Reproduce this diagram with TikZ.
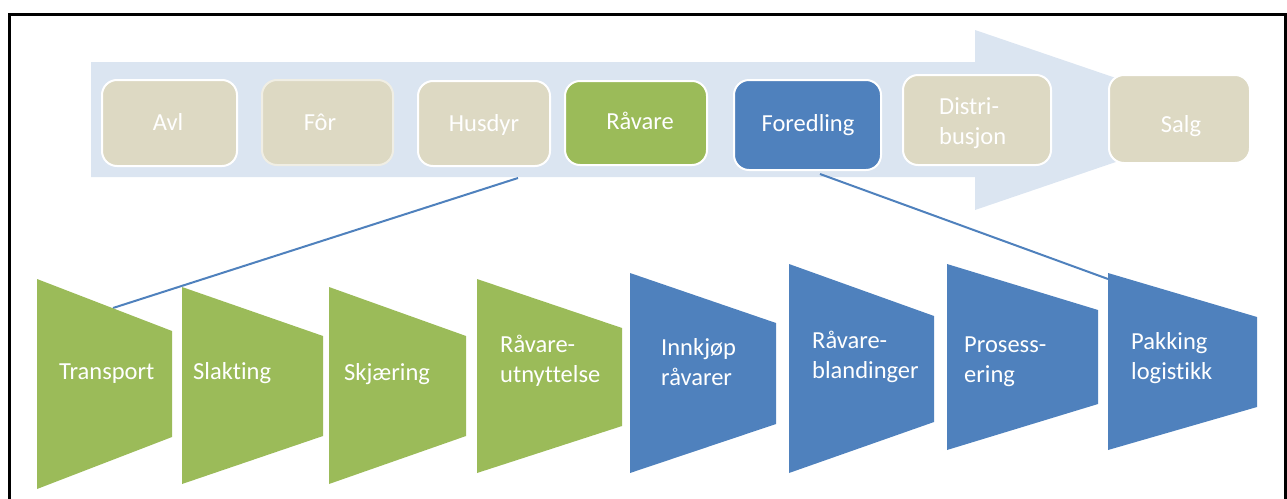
\documentclass[tikz,border=0pt]{standalone}
\usepackage{fontspec}
\setmainfont{Carlito}[Ligatures=NoCommon]
\definecolor{bandblue}{RGB}{219,229,241}
\definecolor{stagetan}{RGB}{221,217,195}
\definecolor{stagegreen}{RGB}{155,187,89}
\definecolor{stageblue}{RGB}{79,129,189}
\begin{document}
\begin{tikzpicture}[x=1pt,y=-1pt,
  stagebox/.style={rounded corners=15pt, draw=white, line width=2pt, inner sep=0pt},
  lbl/.style={text=white, inner sep=0pt, font=\fontsize{24.5}{29.5}\selectfont},
  link/.style={draw=stageblue, line width=2pt}]
\useasboundingbox (0,0) rectangle (1287,498);
\clip (0,0) rectangle (1287,498);

% outer frame (open at the bottom edge)
\draw[line width=3pt] (9.5,510) -- (9.5,14) -- (1285.5,14) -- (1285.5,510);

% wide process arrow behind the stage boxes
\fill[bandblue] (91,62) -- (975,62) -- (975,30) -- (1239,120) -- (975,210) -- (975,177) -- (91,177) -- cycle;

% value-chain stages
\node[stagebox, fill=stagetan, minimum width=135pt, minimum height=86pt] (avl) at (169.5,123) {};
\node[stagebox, fill=stagetan, draw=white!55!stagetan, minimum width=131pt, minimum height=85pt] (for) at (327.5,122.5) {};
\node[stagebox, fill=stagetan, minimum width=132pt, minimum height=85pt] (husdyr) at (484,123.5) {};
\node[stagebox, fill=stagegreen, minimum width=142pt, minimum height=84pt] (ravare) at (636,123) {};
\node[stagebox, fill=stageblue, minimum width=147pt, minimum height=90pt] (foredling) at (807.5,125) {};
\node[stagebox, fill=stagetan, minimum width=148pt, minimum height=90pt] (distribusjon) at (977,120) {};
\node[stagebox, fill=stagetan, minimum width=141pt, minimum height=88pt] (salg) at (1179.5,119) {};

\node[lbl, anchor=base] (avl-t) at (168,130) {Avl};
\node[lbl, anchor=base] (for-t) at (320,130) {Fôr};
\node[lbl, anchor=base] (husdyr-t) at (484,131) {Husdyr};
\node[lbl, anchor=base] (ravare-t) at (640,129) {Råvare};
\node[lbl, anchor=base] (foredling-t) at (808,131) {Foredling};
% for two-line labels the base anchor sits on the last line
\node[lbl, anchor=base west, align=left] (distribusjon-t) at (939,144) {Distri-\\busjon};
\node[lbl, anchor=base] (salg-t) at (1181,132) {Salg};

% detail links from the chain down to the process steps
\coordinate (husdyr-out) at (518,178);
\coordinate (foredling-out) at (820,174);
\coordinate (transport-in) at (113,308);
\coordinate (pakking-in) at (1108,279);
\draw[link] (husdyr-out) -- (transport-in);
\draw[link] (foredling-out) -- (pakking-in);

% process steps
\fill[stagegreen] (37,279) -- (172,331) -- (172,437) -- (37,489) -- cycle;
\fill[stagegreen] (182,287) -- (323,336) -- (323,436) -- (182,484) -- cycle;
\fill[stagegreen] (329,287) -- (466,336) -- (466,436) -- (329,484) -- cycle;
\fill[stagegreen] (477,279) -- (622,328) -- (622,426) -- (477,473) -- cycle;
\fill[stageblue] (630,273) -- (776,323) -- (776,424) -- (630,473) -- cycle;
\fill[stageblue] (789,264) -- (934,316) -- (934,422) -- (789,473) -- cycle;
\fill[stageblue] (947,264) -- (1098,310) -- (1098,404) -- (947,450) -- cycle;
\fill[stageblue] (1108,273) -- (1257,317) -- (1257,407) -- (1108,450) -- cycle;

\node[lbl, anchor=base west] (transport) at (59,379) {Transport};
\node[lbl, anchor=base west] (slakting) at (193,379) {Slakting};
\node[lbl, anchor=base west] (skjaering) at (344,380) {Skjæring};
\node[lbl, anchor=base west, align=left] (utnyttelse) at (500,382) {Råvare-\\utnyttelse};
\node[lbl, anchor=base west, align=left] (innkjop) at (661,385) {Innkjøp\\råvarer};
\node[lbl, anchor=base west, align=left] (blandinger) at (812,378) {Råvare-\\blandinger};
\node[lbl, anchor=base west, align=left] (prosessering) at (964,382) {Prosess-\\ering};
\node[lbl, anchor=base west, align=left] (pakking) at (1131,379) {Pakking\\logistikk};
\end{tikzpicture}
\end{document}
